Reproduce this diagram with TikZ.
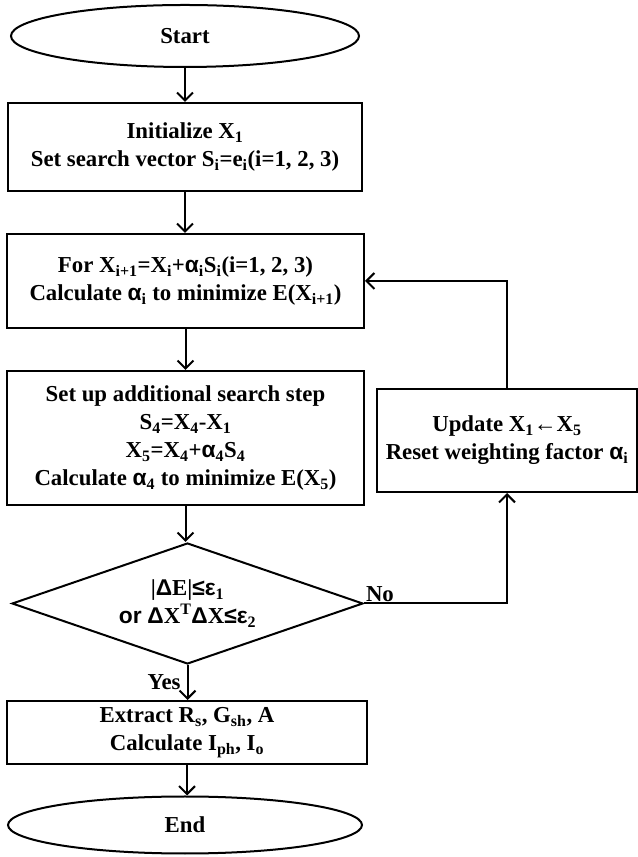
\documentclass[tikz,border=0pt]{standalone}
\usepackage{fontspec}
\setmainfont{Liberation Serif}
\newfontfamily\grkfont{Liberation Sans}
\usetikzlibrary{shapes.geometric,arrows.meta}

\newcommand\galpha{{\grkfont α}}
\newcommand\gdelta{{\grkfont Δ}}
\newcommand\geps{{\grkfont ε}}
\newcommand\gleq{{\grkfont ≤}}
\newcommand\garrow{{\grkfont ←}}
\newcommand\sbs[1]{\textsubscript{#1}}

\begin{document}
\begin{tikzpicture}[x=1bp, y=1bp, line width=2bp,
    >={Straight Barb[length=8bp,width=16bp]},
    every node/.style={font=\bfseries\fontsize{22.8bp}{28bp}\selectfont, align=center},
    term/.style={draw, ellipse, inner sep=0pt},
    procbox/.style={draw, rectangle, inner sep=0pt},
    decision/.style={draw, diamond, aspect=2.9, inner sep=0pt}]
        \useasboundingbox (0,0) rectangle (638,857);
        
        % Inizio e fine
        \node[term, minimum width=348bp, minimum height=62bp] (start) at (185,821) {Start};
        \node[term, minimum width=354bp, minimum height=57bp] (end) at (185,32) {End};
        
        % Blocchi principali
        \node[procbox, minimum width=354bp, minimum height=88bp] (init) at (185,710)
            {Initialize X\sbs{1}\\Set search vector S\sbs{i}=e\sbs{i}(i=1, 2, 3)};
        \node[procbox, minimum width=357bp, minimum height=94bp] (loop) at (185.5,576)
            {For X\sbs{i+1}=X\sbs{i}+\galpha\sbs{i}S\sbs{i}(i=1, 2, 3)\\Calculate \galpha\sbs{i} to minimize E(X\sbs{i+1})};
        \node[procbox, minimum width=357bp, minimum height=134bp] (extra) at (185.5,419)
            {Set up additional search step\\S\sbs{4}=X\sbs{4}-X\sbs{1}\\X\sbs{5}=X\sbs{4}+\galpha\sbs{4}S\sbs{4}\\Calculate \galpha\sbs{4} to minimize E(X\sbs{5})};
        \node[decision, minimum width=351bp, minimum height=121bp] (check) at (187.5,253.5)
            {|\gdelta E|\gleq\geps\sbs{1}\\{\grkfont or} \gdelta X\textsuperscript{T}\gdelta X\gleq\geps\sbs{2}};
        \node[procbox, minimum width=360bp, minimum height=63bp] (extract) at (187,124.5)
            {Extract R\sbs{s}, G\sbs{sh}, A\\Calculate I\sbs{ph}, I\sbs{o}};
        
        % Blocco di aggiornamento
        \node[procbox, minimum width=260bp, minimum height=103bp] (update) at (507,416.5)
            {Update X\sbs{1}\garrow X\sbs{5}\\Reset weighting factor \galpha\sbs{i}};
        
        % Frecce
        \draw[->] (start.south) -- (start.south |- init.north);
        \draw[->] (init.south) -- (init.south |- loop.north);
        \draw[->] (loop.south) -- (loop.south |- extra.north);
        \draw[->] (extra.south) -- (extra.south |- check.north);
        \draw[->] (check.south) -- (check.south |- extract.north)
            node[midway, left, inner sep=6bp] (yes) {Yes};
        \draw[->] (extract.south) -- (extract.south |- end.north);
        
        % Ciclo di ritorno
        \draw[->] (check.east) -| (update.south)
            node[pos=0, above right, inner sep=1bp] (no) {No};
        \draw[->] (update.north) |- (loop.east);
        
    \end{tikzpicture}
\end{document}
